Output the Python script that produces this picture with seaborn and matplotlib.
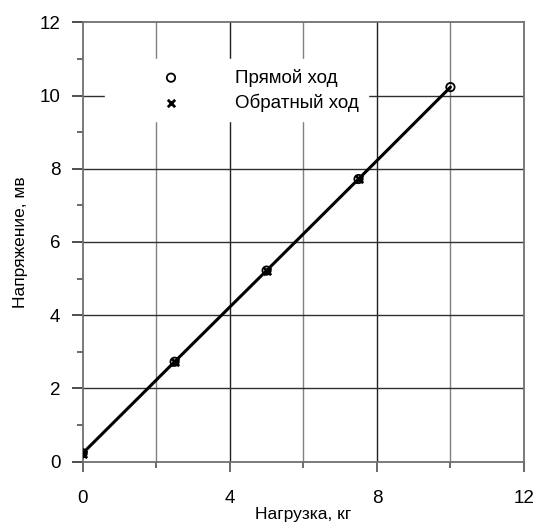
import matplotlib
matplotlib.use("Agg")
import matplotlib.pyplot as plt
from matplotlib.ticker import MultipleLocator
import pandas as pd
import seaborn as sns

# Calibration data: load (kg) vs output voltage (mV)
load_kg = [0, 2.5, 5, 7.5, 10]
forward_mv = [0.23, 2.73, 5.22, 7.72, 10.23]
reverse_load_kg = [0, 2.5, 5, 7.5]
reverse_mv = [0.22, 2.72, 5.22, 7.72]

x_label = "Нагрузка, кг"
y_label = "Напряжение, мв"
forward_label = "Прямой ход"
reverse_label = "Обратный ход"

sns.set_style("white")
plt.rcParams["font.family"] = ["Liberation Sans", "DejaVu Sans"]
plt.rcParams["text.color"] = "black"
plt.rcParams["axes.labelcolor"] = "black"
plt.rcParams["xtick.labelcolor"] = "black"
plt.rcParams["ytick.labelcolor"] = "black"

fwd = pd.DataFrame({"load": load_kg, "mv": forward_mv})
rev = pd.DataFrame({"load": reverse_load_kg, "mv": reverse_mv})

fig = plt.figure(figsize=(5.36, 5.25), dpi=100)
ax = fig.add_axes([0.1543, 0.1206, 0.8233, 0.8369])

ax.set_xlim(0, 12)
ax.set_ylim(0, 12)

# grid: x major every 4, minor every 2; y major every 2, minor every 1
ax.xaxis.set_major_locator(MultipleLocator(4))
ax.xaxis.set_minor_locator(MultipleLocator(2))
ax.yaxis.set_major_locator(MultipleLocator(2))
ax.yaxis.set_minor_locator(MultipleLocator(1))

for v in [2, 6, 10]:
    ax.axvline(v, color="#808080", lw=1.0, zorder=0.5)
for v in [4, 8]:
    ax.axvline(v, color="#202020", lw=1.0, zorder=0.5)
for v in [2, 4, 6, 8, 10]:
    ax.axhline(v, color="#303030", lw=1.0, zorder=0.5)

sns.lineplot(data=fwd, x="load", y="mv", ax=ax, color="black", lw=2.2,
             legend=False, zorder=3)
sns.scatterplot(data=rev, x="load", y="mv", ax=ax, marker="x", color="black",
                s=28, linewidth=2.0, label=reverse_label, zorder=4)
sns.scatterplot(data=fwd, x="load", y="mv", ax=ax, marker="o",
                facecolor="none", edgecolor="black", s=36, linewidth=1.3,
                label=forward_label, zorder=5)

for side in ["left", "bottom", "right", "top"]:
    ax.spines[side].set_color("#707070")
    ax.spines[side].set_linewidth(1.3)
    ax.spines[side].set_zorder(2)

ax.tick_params(axis="x", which="major", direction="out", length=7.5, width=1.2,
               color="#505050", pad=13, labelsize=13.5, bottom=True)
ax.tick_params(axis="x", which="minor", direction="out", length=4, width=1.2,
               color="#505050", bottom=True)
ax.tick_params(axis="y", which="major", direction="out", length=8, width=1.2,
               color="#303030", pad=8, labelsize=13.5, left=True)
ax.tick_params(axis="y", which="minor", direction="out", length=4, width=1.2,
               color="#505050", left=True)

ax.set_xlabel(x_label, fontsize=12.5, labelpad=0)
ax.set_ylabel(y_label, fontsize=12.5, labelpad=8)

handles, labels = ax.get_legend_handles_labels()
order = [labels.index(forward_label), labels.index(reverse_label)]
leg = ax.legend([handles[i] for i in order], [labels[i] for i in order],
                loc="upper left", bbox_to_anchor=(0.0505, 0.916),
                borderaxespad=0, frameon=True, fancybox=False,
                facecolor="white", edgecolor="white", framealpha=1,
                fontsize=13.5, handlelength=6.04, handletextpad=0.39,
                borderpad=0.5, labelspacing=0.36)
leg.set_zorder(6)

fig.savefig("out.png", dpi=100)
